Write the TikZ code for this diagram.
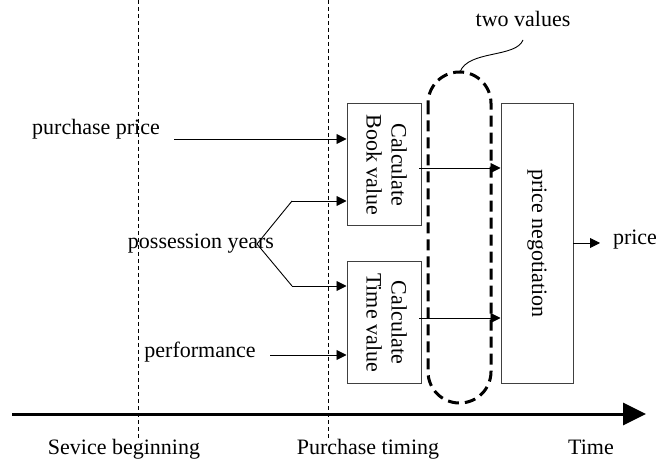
\documentclass[tikz,border=0pt]{standalone}
\usepackage{fontspec}
\setmainfont{Liberation Serif}
\usetikzlibrary{arrows.meta}
\tikzset{
  txt/.style={inner sep=0pt, font=\fontsize{22}{25}\selectfont},
  procbox/.style={draw=black!75, line width=1pt, inner sep=0pt, font=\fontsize{22}{25}\selectfont},
  arr/.style={line width=0.9pt, -{Triangle[length=10pt,width=10pt]}},
  plain/.style={line width=0.9pt},
  vline/.style={line width=0.8pt, dash pattern=on 4pt off 3pt},
  groupline/.style={line width=3pt, dash pattern=on 11pt off 6pt},
  axis/.style={line width=3pt, -{Triangle[length=23pt,width=22pt]}}
}
\newcommand{\vtext}[1]{\rotatebox{-90}{\begin{tabular}{@{}c@{}}#1\end{tabular}}}
\begin{document}
\begin{tikzpicture}[x=1pt,y=-1pt]
\useasboundingbox (0,0) rectangle (672,462);

% time markers
\draw[vline] (138,0) -- (138,440);
\draw[vline] (328,0) -- (328,440);

% time axis
\coordinate (axStart) at (12,414);
\coordinate (axEnd) at (646,414);
\draw[axis] (axStart) -- (axEnd);

\node[txt, anchor=base] (sb) at (124,454) {Sevice beginning};
\node[txt, anchor=base] (pt) at (368,454) {Purchase timing};
\node[txt, anchor=base] (tm) at (591,454) {Time};

% processing boxes
\node[procbox, minimum width=74pt, minimum height=122pt] (book) at (384,165) {\vtext{Calculate\\Book value}};
\node[procbox, minimum width=74pt, minimum height=121pt] (time) at (384,322.5) {\vtext{Calculate\\Time value}};
\node[procbox, minimum width=72pt, minimum height=279pt] (neg) at (537,243.5) {\vtext{price negotiation}};

% inputs
\node[txt] (pp) at (96,129) {purchase price};
\node[txt] (py) at (201,244) {possession years};
\node[txt] (pf) at (200,352) {performance};
\node[txt] (pr) at (635,240) {price};

\coordinate (ppStart) at (174,139);
\draw[arr] (ppStart) -- (ppStart -| book.west);

\coordinate (fork) at (257,244);
\coordinate (forkUp) at (292,201);
\coordinate (forkDn) at (292,286);
\draw[plain] (fork) -- (forkUp);
\draw[arr] (forkUp) -- (forkUp -| book.west);
\draw[plain] (fork) -- (forkDn);
\draw[arr] (forkDn) -- (forkDn -| time.west);

\coordinate (pfStart) at (270,355);
\draw[arr] (pfStart) -- (pfStart -| time.west);

% results into negotiation
\coordinate (bookOut) at (419,168);
\coordinate (timeOut) at (419,318);
\draw[arr] (bookOut) -- (bookOut -| neg.west);
\draw[arr] (timeOut) -- (timeOut -| neg.west);

\coordinate (negOut) at (573,243);
\draw[arr] (negOut) -- (600,243) coordinate (priceIn);

% grouping of the two values
\draw[groupline, rounded corners=31.4pt] (428,72) rectangle (491,403);
\node[txt] (tv) at (523,19) {two values};
\coordinate (tvFoot) at (523,40);
\coordinate (grpTop) at (460,72);
\draw[line width=0.9pt] (tvFoot) .. controls (516,58) and (468,50) .. (grpTop);
\end{tikzpicture}
\end{document}
